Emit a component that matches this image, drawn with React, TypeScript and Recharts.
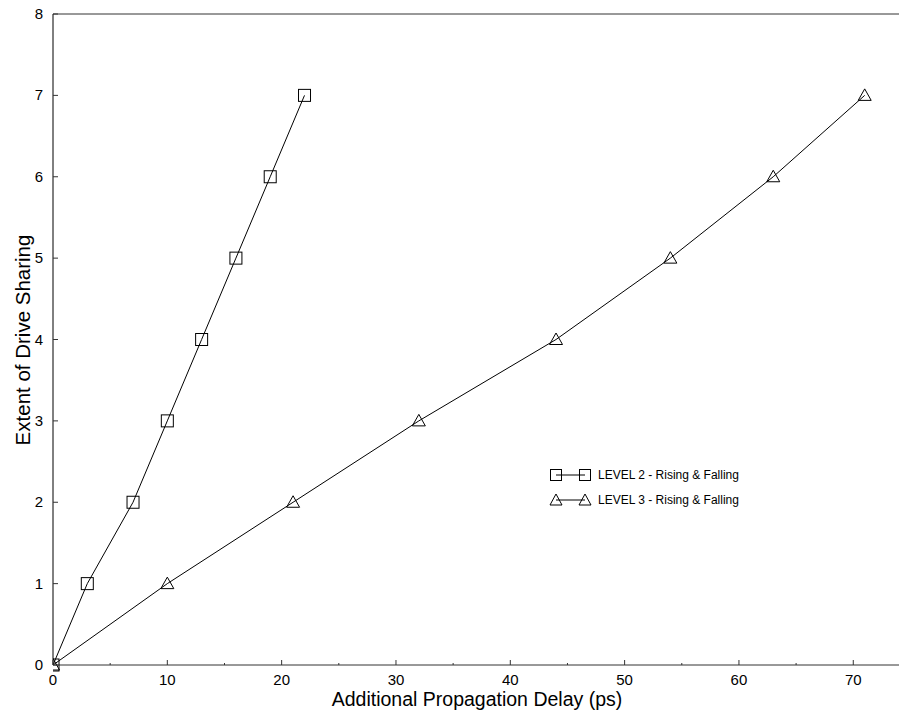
import React from 'react';
import { LineChart, Line, XAxis, YAxis, ReferenceLine } from 'recharts';

const level2Delay = [0, 3, 7, 10, 13, 16, 19, 22];
const level2Sharing = [0, 1, 2, 3, 4, 5, 6, 7];
const level3Delay = [0, 10, 21, 32, 44, 54, 63, 71];
const level3Sharing = [0, 1, 2, 3, 4, 5, 6, 7];
const xTicks = [0, 5, 10, 15, 20, 25, 30, 35, 40, 45, 50, 55, 60, 65, 70];
const yTicks = [0, 1, 2, 3, 4, 5, 6, 7, 8];
const seriesNames = ['LEVEL 2 - Rising & Falling', 'LEVEL 3 - Rising & Falling'];

const level2 = level2Delay.map((d, i) => ({ x: d, y: level2Sharing[i] }));
const level3 = level3Delay.map((d, i) => ({ x: d, y: level3Sharing[i] }));

const FONT = '"Liberation Sans", Arial, sans-serif';

const SquareDot = (props: any) => {
  const { cx, cy } = props;
  if (cx == null || cy == null) return null;
  return <rect x={cx - 6} y={cy - 6} width={12} height={12} fill="none" stroke="#000" strokeWidth={1} />;
};

const TriangleDot = (props: any) => {
  const { cx, cy } = props;
  if (cx == null || cy == null) return null;
  return (
    <path d={`M${cx},${cy - 6.5} L${cx + 6.5},${cy + 5} L${cx - 6.5},${cy + 5} Z`} fill="none" stroke="#000" strokeWidth={1} />
  );
};

const XTick = (props: any) => {
  const { x, y, payload } = props;
  const major = payload.value % 10 === 0;
  return (
    <g>
      <line x1={x} x2={x} y1={y} y2={y - (major ? 5 : 2)} stroke="#333" />
      {major && (
        <text x={x} y={y + 20} textAnchor="middle" fontSize={15} fontFamily={FONT} fill="#000">
          {payload.value}
        </text>
      )}
    </g>
  );
};

const YTick = (props: any) => {
  const { x, y, payload } = props;
  return (
    <g>
      <line x1={x} x2={x + 5} y1={y} y2={y} stroke="#333" />
      <text x={x - 10} y={y + 5} textAnchor="end" fontSize={15} fontFamily={FONT} fill="#000">
        {payload.value}
      </text>
    </g>
  );
};

const LegendBox = () => (
  <div style={{ position: 'absolute', left: 549, top: 462, width: 260, fontFamily: FONT, fontSize: 12, color: '#000' }}>
    {seriesNames.map((name, i) => (
      <div key={name} style={{ display: 'flex', alignItems: 'center', height: 25 }}>
        <svg width={49} height={16}>
          <line x1={7} x2={36} y1={8} y2={8} stroke="#000" />
          {i === 0 ? (
            <>
              <rect x={1.5} y={2.5} width={11} height={11} fill="none" stroke="#000" />
              <rect x={30.5} y={2.5} width={11} height={11} fill="none" stroke="#000" />
            </>
          ) : (
            <>
              <path d="M7,2 L13,13 L1,13 Z" fill="none" stroke="#000" />
              <path d="M36,2 L42,13 L30,13 Z" fill="none" stroke="#000" />
            </>
          )}
        </svg>
        <span>{name}</span>
      </div>
    ))}
  </div>
);

export default function App() {
  return (
    <div style={{ position: 'absolute', left: 0, top: 0, width: 899, height: 712 }}>
      <LineChart width={899} height={712} margin={{ top: 14, right: 0, bottom: 0, left: 0 }}>
        <XAxis
          type="number"
          dataKey="x"
          domain={[0, 74]}
          ticks={xTicks}
          interval={0}
          tickSize={0}
          tickMargin={0}
          tickLine={false}
          tick={<XTick />}
          height={47}
          axisLine={{ stroke: '#333' }}
          allowDataOverflow
          label={{
            content: () => (
              <text x={477} y={706} textAnchor="middle" fontSize={19.5} fontFamily={FONT} fill="#000">
                Additional Propagation Delay (ps)
              </text>
            ),
          }}
        />
        <YAxis
          type="number"
          dataKey="y"
          domain={[0, 8]}
          ticks={yTicks}
          interval={0}
          tickSize={0}
          tickMargin={0}
          tickLine={false}
          tick={<YTick />}
          width={53}
          axisLine={{ stroke: '#000' }}
          label={{
            content: () => (
              <text x={30} y={340} transform="rotate(-90 30 340)" textAnchor="middle" fontSize={20.5} fontFamily={FONT} fill="#000">
                Extent of Drive Sharing
              </text>
            ),
          }}
        />
        <ReferenceLine y={8} stroke="#333" ifOverflow="extendDomain" />
        <Line
          data={level2}
          dataKey="y"
          name={seriesNames[0]}
          stroke="#000"
          strokeWidth={1}
          dot={<SquareDot />}
          isAnimationActive={false}
        />
        <Line
          data={level3}
          dataKey="y"
          name={seriesNames[1]}
          stroke="#000"
          strokeWidth={1}
          dot={<TriangleDot />}
          isAnimationActive={false}
        />
      </LineChart>
      <LegendBox />
    </div>
  );
}
